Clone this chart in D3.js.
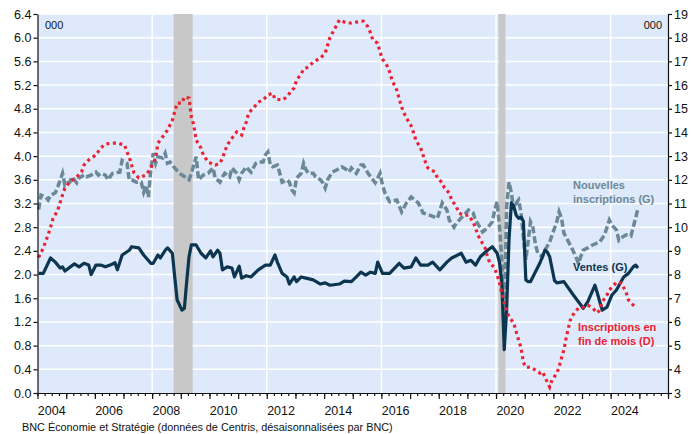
<!DOCTYPE html>
<html>
<head>
<meta charset="utf-8">
<script src="https://cdn.jsdelivr.net/npm/d3@7"></script>
<style>
  body { margin: 0; background: #fff; }
  svg { display: block; font-family: Arial, "Liberation Sans", sans-serif; }
</style>
</head>
<body>
<svg id="chart" width="691" height="434"></svg>
<script>
// monthly values, [month, value]
const ventes = [["2004-01",2.02],["2004-03",2.02],["2004-06",2.28],["2004-08",2.21],["2004-10",2.11],["2004-11",2.13],["2004-12",2.06],["2005-04",2.18],["2005-06",2.13],["2005-08",2.19],["2005-10",2.16],["2005-11",2.0],["2006-01",2.16],["2006-03",2.16],["2006-05",2.13],["2006-07",2.16],["2006-09",2.2],["2006-10",2.08],["2006-12",2.33],["2007-03",2.41],["2007-04",2.47],["2007-07",2.45],["2007-09",2.33],["2007-12",2.19],["2008-01",2.19],["2008-03",2.33],["2008-04",2.28],["2008-06",2.41],["2008-07",2.45],["2008-09",2.36],["2008-10",1.96],["2008-11",1.57],["2009-01",1.40],["2009-02",1.43],["2009-03",1.86],["2009-04",2.3],["2009-05",2.5],["2009-07",2.5],["2009-09",2.36],["2009-11",2.28],["2010-01",2.4],["2010-02",2.3],["2010-04",2.41],["2010-05",2.36],["2010-06",2.08],["2010-08",2.13],["2010-10",2.11],["2010-11",1.96],["2011-01",2.14],["2011-02",1.94],["2011-04",1.98],["2011-06",1.96],["2011-09",2.08],["2011-12",2.16],["2012-02",2.16],["2012-04",2.33],["2012-05",2.21],["2012-07",2.02],["2012-09",1.96],["2012-10",1.84],["2012-12",1.96],["2013-01",1.88],["2013-03",1.96],["2013-05",1.94],["2013-08",1.91],["2013-11",1.84],["2014-01",1.86],["2014-03",1.82],["2014-07",1.84],["2014-09",1.89],["2014-12",1.88],["2015-02",1.96],["2015-04",2.04],["2015-06",1.99],["2015-08",2.04],["2015-10",2.02],["2015-11",2.21],["2016-01",2.02],["2016-04",2.02],["2016-08",2.19],["2016-10",2.11],["2017-01",2.13],["2017-03",2.28],["2017-05",2.16],["2017-08",2.16],["2017-10",2.21],["2018-01",2.08],["2018-04",2.21],["2018-06",2.28],["2018-10",2.36],["2018-12",2.21],["2019-02",2.24],["2019-04",2.16],["2019-06",2.30],["2019-09",2.41],["2019-11",2.47],["2020-01",2.36],["2020-02",2.2],["2020-03",1.86],["2020-04",0.73],["2020-05",1.4],["2020-06",2.6],["2020-07",3.21],["2020-08",3.15],["2020-09",3.0],["2020-10",2.95],["2020-11",2.97],["2020-12",2.9],["2021-01",1.91],["2021-02",1.88],["2021-03",1.88],["2021-05",2.04],["2021-07",2.2],["2021-09",2.41],["2021-10",2.38],["2021-11",2.3],["2022-01",1.9],["2022-02",1.86],["2022-05",1.88],["2022-09",1.65],["2022-12",1.49],["2023-01",1.43],["2023-03",1.54],["2023-06",1.82],["2023-07",1.69],["2023-09",1.40],["2023-11",1.45],["2024-01",1.65],["2024-03",1.74],["2024-06",1.96],["2024-08",2.02],["2024-10",2.13],["2024-11",2.16],["2024-12",2.11]];

const nouvellesInscriptions = [["2004-01",3.1],["2004-02",3.34],["2004-04",3.31],["2004-05",3.26],["2004-06",3.34],["2004-08",3.38],["2004-09",3.48],["2004-11",3.71],["2004-12",3.51],["2005-01",3.55],["2005-02",3.56],["2005-03",3.65],["2005-05",3.55],["2005-06",3.63],["2005-08",3.68],["2005-09",3.65],["2005-11",3.68],["2006-01",3.73],["2006-02",3.68],["2006-03",3.71],["2006-05",3.68],["2006-06",3.6],["2006-08",3.71],["2006-11",3.73],["2006-12",3.93],["2007-02",3.88],["2007-03",3.6],["2007-04",3.6],["2007-06",3.56],["2007-08",3.56],["2007-09",3.39],["2007-10",3.51],["2007-11",3.31],["2007-12",3.77],["2008-01",4.05],["2008-02",3.88],["2008-03",3.99],["2008-05",3.97],["2008-06",4.05],["2008-07",3.88],["2008-08",3.9],["2008-10",3.8],["2008-12",3.71],["2009-03",3.63],["2009-04",3.6],["2009-05",3.71],["2009-07",3.99],["2009-08",3.6],["2009-10",3.68],["2009-12",3.71],["2010-02",3.8],["2010-03",3.63],["2010-05",3.56],["2010-06",3.65],["2010-07",3.71],["2010-09",3.65],["2010-10",3.8],["2010-12",3.71],["2011-01",3.6],["2011-02",3.71],["2011-04",3.82],["2011-05",3.77],["2011-06",3.73],["2011-08",3.88],["2011-09",3.9],["2011-11",3.9],["2011-12",4.02],["2012-01",4.07],["2012-02",3.85],["2012-03",3.82],["2012-05",3.85],["2012-06",3.71],["2012-07",3.56],["2012-09",3.6],["2012-10",3.56],["2012-11",3.43],["2012-12",3.38],["2013-01",3.63],["2013-03",3.71],["2013-04",3.88],["2013-05",3.77],["2013-06",3.71],["2013-08",3.71],["2013-09",3.65],["2013-11",3.6],["2013-12",3.55],["2014-01",3.46],["2014-02",3.6],["2014-04",3.73],["2014-06",3.77],["2014-08",3.82],["2014-10",3.77],["2014-11",3.73],["2014-12",3.8],["2015-02",3.71],["2015-04",3.85],["2015-05",3.85],["2015-07",3.71],["2015-09",3.6],["2015-10",3.55],["2015-12",3.71],["2016-01",3.51],["2016-02",3.38],["2016-04",3.23],["2016-07",3.26],["2016-09",3.06],["2016-11",3.21],["2017-01",3.31],["2017-04",3.21],["2017-06",3.04],["2017-09",3.0],["2017-12",2.95],["2018-02",3.21],["2018-04",3.09],["2018-05",2.92],["2018-07",2.80],["2018-08",2.87],["2018-11",3.0],["2019-01",3.09],["2019-03",3.04],["2019-04",2.92],["2019-07",2.72],["2019-09",2.79],["2019-11",2.89],["2019-12",3.09],["2020-01",3.23],["2020-02",2.8],["2020-03",2.25],["2020-04",0.95],["2020-05",3.14],["2020-06",3.56],["2020-07",3.38],["2020-08",3.09],["2020-09",3.21],["2020-10",3.26],["2020-11",3.04],["2020-12",2.63],["2021-01",2.25],["2021-02",2.58],["2021-03",2.89],["2021-04",2.8],["2021-05",2.53],["2021-06",2.36],["2021-08",2.3],["2021-09",2.41],["2021-11",2.55],["2022-02",2.9],["2022-03",3.06],["2022-04",2.95],["2022-05",2.7],["2022-08",2.47],["2022-10",2.3],["2022-11",2.19],["2023-01",2.41],["2023-03",2.45],["2023-05",2.5],["2023-08",2.55],["2023-10",2.67],["2023-12",2.92],["2024-01",2.84],["2024-03",2.75],["2024-04",2.58],["2024-05",2.62],["2024-07",2.67],["2024-09",2.65],["2024-11",2.96],["2024-12",3.12]];

const inscriptionsFinMois = [["2004-01",8.72],["2004-03",9.12],["2004-05",9.67],["2004-06",10.0],["2004-07",10.34],["2004-09",10.72],["2004-11",11.36],["2004-12",11.65],["2005-02",11.91],["2005-05",12.12],["2005-07",12.33],["2005-08",12.62],["2005-10",12.84],["2006-01",13.05],["2006-03",13.34],["2006-05",13.51],["2006-08",13.55],["2006-10",13.55],["2007-01",13.47],["2007-02",13.17],["2007-03",12.96],["2007-04",12.62],["2007-05",12.29],["2007-07",12.08],["2007-10",12.2],["2007-12",12.5],["2008-02",12.92],["2008-03",13.55],["2008-05",13.82],["2008-07",14.1],["2008-09",14.52],["2008-11",15.24],["2009-01",15.24],["2009-02",15.5],["2009-04",15.45],["2009-05",14.65],["2009-06",14.31],["2009-07",13.68],["2009-09",13.34],["2009-10",13.05],["2009-12",12.75],["2010-03",12.62],["2010-05",12.7],["2010-06",12.92],["2010-08",13.47],["2010-10",13.76],["2010-12",14.02],["2011-02",13.89],["2011-03",14.19],["2011-04",14.44],["2011-05",14.82],["2011-07",15.03],["2011-09",15.28],["2011-11",15.37],["2012-01",15.58],["2012-03",15.66],["2012-04",15.41],["2012-07",15.37],["2012-09",15.5],["2012-11",15.79],["2012-12",15.87],["2013-01",16.21],["2013-03",16.47],["2013-04",16.68],["2013-06",16.76],["2013-08",16.97],["2013-11",17.14],["2014-01",17.35],["2014-02",17.69],["2014-03",17.99],["2014-05",18.37],["2014-07",18.75],["2014-10",18.62],["2014-12",18.62],["2015-02",18.66],["2015-05",18.70],["2015-07",18.45],["2015-08",18.2],["2015-09",17.9],["2015-11",17.77],["2015-12",17.39],["2016-01",17.1],["2016-03",16.8],["2016-04",16.55],["2016-05",16.21],["2016-07",15.79],["2016-08",15.41],["2016-09",15.07],["2016-10",14.82],["2016-11",14.61],["2017-01",14.27],["2017-02",13.98],["2017-03",13.68],["2017-05",13.34],["2017-06",13.05],["2017-07",12.75],["2017-08",12.5],["2017-11",12.33],["2017-12",12.08],["2018-02",11.87],["2018-03",11.65],["2018-05",11.44],["2018-06",11.15],["2018-08",10.85],["2018-09",10.6],["2018-11",10.5],["2019-01",10.51],["2019-03",10.22],["2019-04",9.97],["2019-05",9.67],["2019-07",9.3],["2019-08",9.12],["2019-09",8.74],["2019-10",8.49],["2019-12",8.28],["2020-01",7.98],["2020-02",7.64],["2020-03",7.22],["2020-04",6.8],["2020-05",6.5],["2020-06",6.21],["2020-08",5.95],["2020-09",5.57],["2020-10",5.24],["2020-11",4.9],["2020-12",4.3],["2021-01",4.08],["2021-03",4.1],["2021-05",3.97],["2021-07",3.84],["2021-08",3.9],["2021-09",3.68],["2021-10",3.46],["2021-11",3.25],["2021-12",3.55],["2022-02",3.84],["2022-03",4.1],["2022-04",4.48],["2022-05",4.82],["2022-06",5.36],["2022-07",5.79],["2022-08",6.21],["2022-10",6.45],["2022-11",6.59],["2023-01",6.63],["2023-03",6.71],["2023-05",6.59],["2023-07",6.38],["2023-08",6.5],["2023-09",6.84],["2023-11",7.14],["2023-12",7.35],["2024-02",7.56],["2024-03",7.69],["2024-05",7.64],["2024-07",7.26],["2024-08",6.93],["2024-10",6.71],["2024-11",6.63]];

const recessions = [["2008-10","2009-05"],["2020-02","2020-04"]];
const leftTicks = [0,0.4,0.8,1.2,1.6,2.0,2.4,2.8,3.2,3.6,4.0,4.4,4.8,5.2,5.6,6.0,6.4];
const rightTicks = [3,4,5,6,7,8,9,10,11,12,13,14,15,16,17,18,19];
const yearLabels = [2004,2006,2008,2010,2012,2014,2016,2018,2020,2022,2024];
const gridYears = [2008,2012,2016,2020,2024];

const svg = d3.select('#chart');
const plot = {left: 37.5, right: 668, top: 14, bottom: 393};
const parseMonth = d3.timeParse('%Y-%m');
const midMonth = s => d3.timeDay.offset(parseMonth(s), 14);

const x = d3.scaleTime()
    .domain([new Date(2004,0,1), new Date(2026,0,1)])
    .range([plot.left, plot.right]);
const yL = d3.scaleLinear().domain([0,6.4]).range([plot.bottom, plot.top]);
const yR = d3.scaleLinear().domain([3,19]).range([plot.bottom, plot.top]);

// plot background
svg.append('rect')
    .attr('x', plot.left).attr('y', plot.top)
    .attr('width', plot.right-plot.left).attr('height', plot.bottom-plot.top)
    .attr('fill', '#deeafb');

// grid
svg.append('g').selectAll('line')
    .data(leftTicks.slice(1))
    .join('line')
    .attr('x1', plot.left).attr('x2', plot.right)
    .attr('y1', d=>yL(d)).attr('y2', d=>yL(d))
    .attr('stroke', '#fff').attr('stroke-width', 1.5);
svg.append('g').selectAll('line')
    .data(gridYears)
    .join('line')
    .attr('x1', d=>x(new Date(d,0,1))).attr('x2', d=>x(new Date(d,0,1)))
    .attr('y1', plot.top).attr('y2', plot.bottom)
    .attr('stroke', '#fff').attr('stroke-width', 1.5);

// recession bands
svg.append('g').selectAll('rect')
    .data(recessions)
    .join('rect')
    .attr('x', d=>x(parseMonth(d[0])))
    .attr('width', d=>x(d3.timeMonth.offset(parseMonth(d[1]),1)) - x(parseMonth(d[0])))
    .attr('y', plot.top).attr('height', plot.bottom-plot.top)
    .attr('fill', '#c8c8c8');

// series
const lineL = d3.line().x(d=>x(midMonth(d[0]))).y(d=>yL(d[1]));
const lineR = d3.line().x(d=>x(midMonth(d[0]))).y(d=>yR(d[1]));

svg.append('path')
    .attr('d', lineL(nouvellesInscriptions))
    .attr('fill', 'none')
    .attr('stroke', '#6a8897')
    .attr('stroke-width', 3.5)
    .attr('stroke-dasharray', '7,3');
svg.append('path')
    .attr('d', lineL(ventes))
    .attr('fill', 'none')
    .attr('stroke', '#0c3550')
    .attr('stroke-width', 3.2)
    .attr('stroke-linejoin', 'round');
svg.append('path')
    .attr('d', lineR(inscriptionsFinMois))
    .attr('fill', 'none')
    .attr('stroke', '#ec2233')
    .attr('stroke-width', 3.2)
    .attr('stroke-dasharray', '3,3.5');

// axes
const fontSize = '12.5px';
const axisL = svg.append('g')
    .attr('transform', `translate(${plot.left},0)`)
    .call(d3.axisLeft(yL).tickValues(leftTicks).tickFormat(d3.format('.1f')).tickSize(4).tickSizeOuter(0));
const axisR = svg.append('g')
    .attr('transform', `translate(${plot.right},0)`)
    .call(d3.axisRight(yR).tickValues(rightTicks).tickSize(4).tickSizeOuter(0));
const years = d3.range(2004, 2027).map(y=>new Date(y,0,1));
const quarters = d3.timeMonth.every(3).range(new Date(2004,0,1), new Date(2026,0,2));
svg.append('g')
    .attr('transform', `translate(0,${plot.bottom})`)
    .call(d3.axisBottom(x).tickValues(quarters).tickFormat('').tickSize(3).tickSizeOuter(0));
svg.append('g')
    .attr('transform', `translate(0,${plot.bottom})`)
    .call(d3.axisBottom(x).tickValues(years).tickFormat('').tickSize(6).tickSizeOuter(0));

[axisL, axisR].forEach(g=>{
    g.selectAll('text').attr('font-size', fontSize).attr('font-family', 'Arial, "Liberation Sans", sans-serif').attr('fill', '#111');
});
svg.selectAll('.domain, .tick line').attr('stroke', '#111').attr('stroke-width', 1.2);
axisL.selectAll('text').attr('x', -6);
axisR.selectAll('text').attr('x', 6);

svg.append('g').selectAll('text')
    .data(yearLabels)
    .join('text')
    .attr('x', d=>x(new Date(d,6,1)))
    .attr('y', 415)
    .attr('text-anchor', 'middle')
    .attr('font-size', fontSize)
    .attr('fill', '#111')
    .text(d=>d);

// unit labels
svg.append('text').attr('x', 45).attr('y', 29).attr('font-size', '11px').attr('fill', '#111').text('000');
svg.append('text').attr('x', 662).attr('y', 29).attr('text-anchor', 'end').attr('font-size', '11px').attr('fill', '#111').text('000');

// series labels
const labels = [
    {lines: ['Nouvelles', 'inscriptions (G)'], x: 573, y: 189, color: '#6a8897'},
    {lines: ['Ventes (G)'], x: 573, y: 271, color: '#0c3550'},
    {lines: ['Inscriptions en', 'fin de mois (D)'], x: 578, y: 331, color: '#ec2233'}
];
labels.forEach(l=>{
    const t = svg.append('text')
        .attr('x', l.x).attr('y', l.y)
        .attr('font-size', '11px').attr('font-weight', 'bold')
        .attr('fill', l.color);
    l.lines.forEach((s,i)=>{
        t.append('tspan').attr('x', l.x).attr('dy', i ? 14 : 0).text(s);
    });
});

// source
svg.append('text')
    .attr('x', 22).attr('y', 431)
    .attr('font-size', '10.85px')
    .attr('fill', '#111')
    .text('BNC Économie et Stratégie (données de Centris, désaisonnalisées par BNC)');
</script>
</body>
</html>
